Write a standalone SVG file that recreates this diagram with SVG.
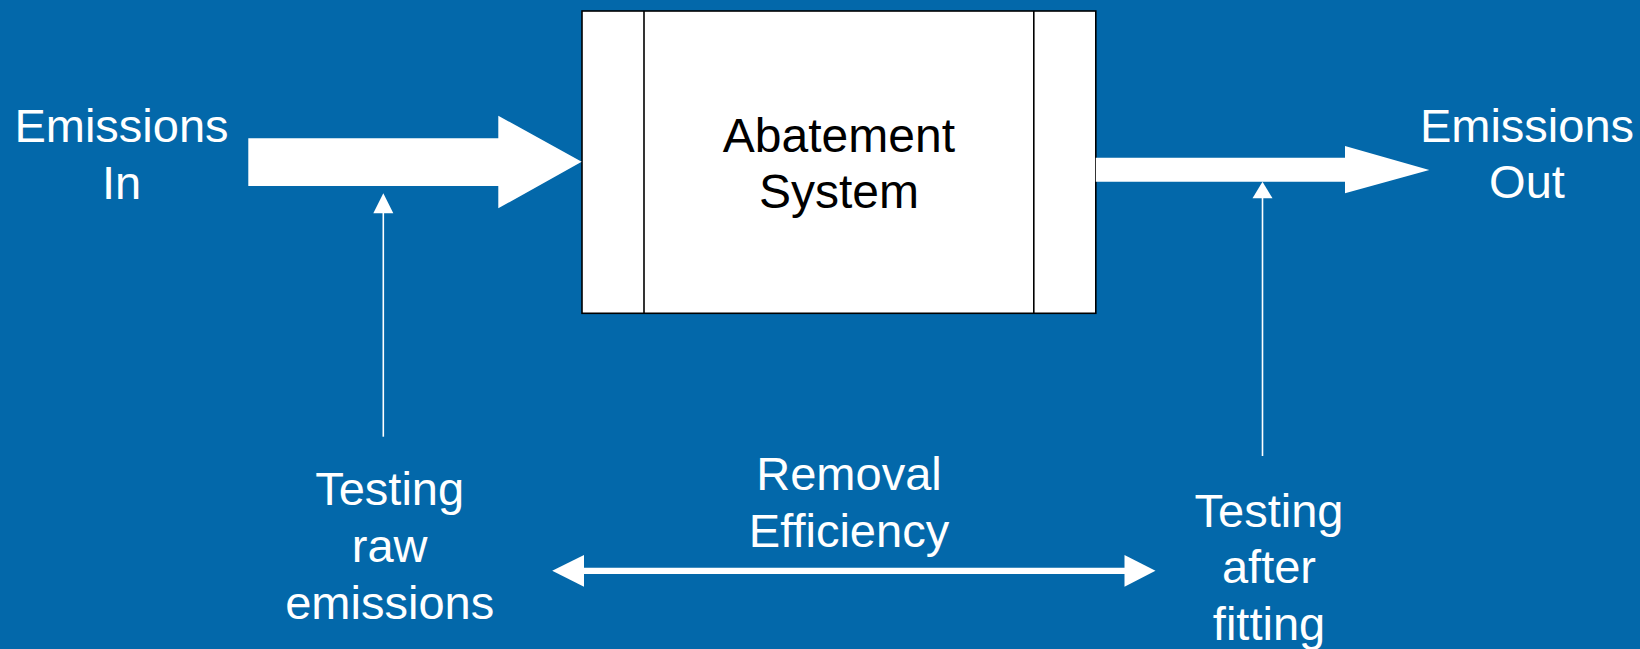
<svg xmlns="http://www.w3.org/2000/svg" width="1640" height="649" viewBox="0 0 1640 649">
  <style>
    .bg { fill: #0368aa; }
    .label { font-family: "Liberation Sans", Arial, sans-serif; font-size: 47px; fill: #ffffff; text-anchor: middle; }
    .boxlabel { font-family: "Liberation Sans", Arial, sans-serif; font-size: 48px; fill: #000000; text-anchor: middle; }
    .box { fill: #ffffff; stroke: #000000; stroke-width: 1.6; }
    .divider { stroke: #000000; stroke-width: 1.6; }
    .flow { fill: #ffffff; }
    .probe { stroke: #ffffff; stroke-width: 1.6; fill: none; }
    .span { stroke: #ffffff; stroke-width: 6.3; fill: none; }
  </style>

  <rect class="bg" x="0" y="0" width="1640" height="649"/>

  <!-- central process block with side bars -->
  <g id="abatement-system">
    <rect class="box" x="582" y="11" width="513.8" height="302.3"/>
    <line class="divider" x1="644" y1="11" x2="644" y2="313.3"/>
    <line class="divider" x1="1033.8" y1="11" x2="1033.8" y2="313.3"/>
    <text class="boxlabel" x="838.9" y="151.7">Abatement</text>
    <text class="boxlabel" x="838.9" y="208.3">System</text>
  </g>

  <g id="emissions-in">
    <text class="label" x="121.5" y="141.7">Emissions</text>
    <text class="label" x="121.5" y="199">In</text>
  </g>

  <g id="emissions-out">
    <text class="label" x="1527" y="141.7">Emissions</text>
    <text class="label" x="1527" y="198.3">Out</text>
  </g>

  <g id="testing-raw">
    <text class="label" x="389.7" y="505">Testing</text>
    <text class="label" x="389.7" y="562">raw</text>
    <text class="label" x="389.7" y="618.5">emissions</text>
  </g>

  <g id="removal-efficiency">
    <text class="label" x="849" y="490">Removal</text>
    <text class="label" x="849" y="546.7">Efficiency</text>
  </g>

  <g id="testing-after">
    <text class="label" x="1269" y="526.7">Testing</text>
    <text class="label" x="1269" y="583.3">after</text>
    <text class="label" x="1269" y="640">fitting</text>
  </g>

  <g id="connectors">
    <!-- wide inflow arrow -->
    <polygon class="flow" points="248.3,138.3 498.3,138.3 498.3,115.7 581.7,161.7 498.3,208.3 498.3,186 248.3,186"/>
    <!-- narrower outflow arrow -->
    <polygon class="flow" points="1095.8,157.7 1345,157.7 1345,146 1429.3,170 1345,193.3 1345,181.7 1095.8,181.7"/>

    <!-- sampling point before the system -->
    <line class="probe" x1="383.3" y1="436.7" x2="383.3" y2="212"/>
    <polygon class="flow" points="383.3,193.3 393.3,213.3 373.3,213.3"/>

    <!-- sampling point after the system -->
    <line class="probe" x1="1262.5" y1="456" x2="1262.5" y2="197"/>
    <polygon class="flow" points="1262.5,181.7 1272.5,198.3 1252.5,198.3"/>

    <!-- comparison span between the two tests -->
    <line class="span" x1="583" y1="570.8" x2="1125.5" y2="570.8"/>
    <polygon class="flow" points="552.2,570.8 584,555 584,586.7"/>
    <polygon class="flow" points="1155.5,570.8 1124.5,555 1124.5,586.7"/>
  </g>
</svg>
